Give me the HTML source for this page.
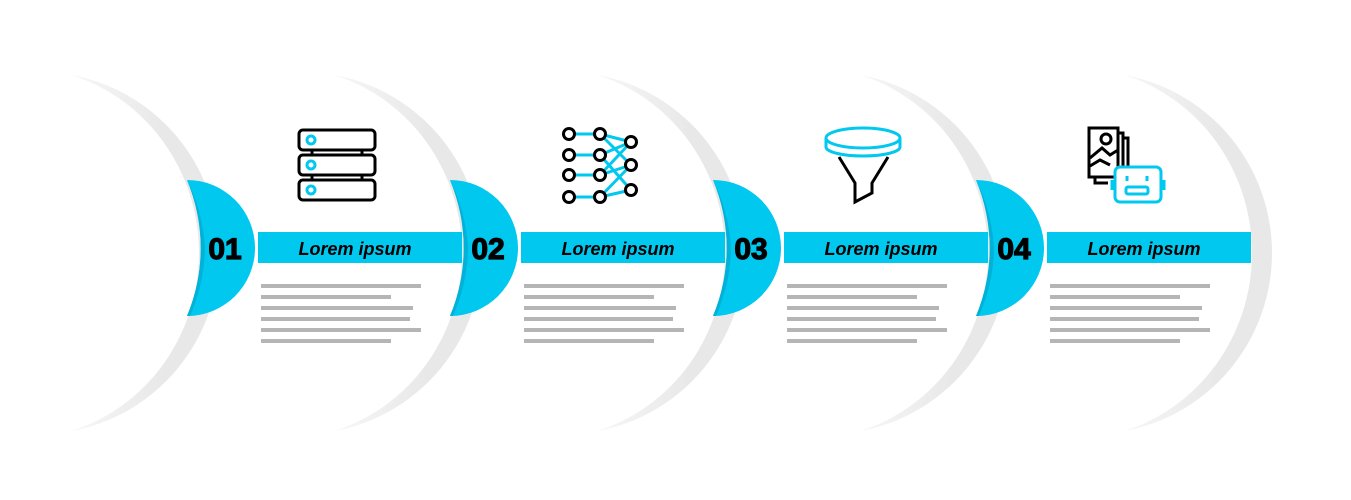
<!DOCTYPE html>
<html><head><meta charset="utf-8"><style>
html,body{margin:0;padding:0;background:#fff;}
svg{display:block;}
text{font-family:"Liberation Sans",sans-serif;}
.num{font-size:30px;font-weight:bold;stroke:#000;stroke-width:1.2px;}
</style></head><body>
<svg width="1351" height="500" viewBox="0 0 1351 500" xmlns="http://www.w3.org/2000/svg">
<defs>
<linearGradient id="gg" x1="0" x2="1" y1="0" y2="0">
<stop offset="0.45" stop-color="#e8e8e8" stop-opacity="0"/>
<stop offset="0.85" stop-color="#e8e8e8" stop-opacity="1"/>
</linearGradient>
<g id="seg">
<ellipse cx="-160" cy="253" rx="180" ry="181" fill="url(#gg)"/>
<ellipse cx="-180" cy="253" rx="180" ry="186" fill="#fff"/>
</g>
</defs>
<use href="#seg" x="1252"/>
<use href="#seg" x="988"/>
<use href="#seg" x="725"/>
<use href="#seg" x="462"/>
<use href="#seg" x="199"/>

<g id="bd">
<path d="M187,180 A68,68 0 0 1 187,316 A190,182 0 0 0 187,180 Z" fill="#00c8ef"/>
<path d="M187,180 A190,182 0 0 1 205,248 A190,182 0 0 1 190,316 L187,316 A190,182 0 0 0 187,180Z" fill="#00b2d8"/>
</g>
<use href="#bd" x="263"/>
<use href="#bd" x="526"/>
<use href="#bd" x="789"/>

<g id="b1">
<rect x="258" y="232" width="204" height="31" fill="#00c8ef"/>
<text x="225" y="259" class="num" text-anchor="middle" fill="#000">01</text>
<text x="355" y="255" font-size="18" font-weight="bold" font-style="italic" text-anchor="middle" fill="#000">Lorem ipsum</text>
<g fill="#b5b5b5">
<rect x="261" y="284" width="160" height="4"/>
<rect x="261" y="295" width="130" height="4"/>
<rect x="261" y="306" width="152" height="4"/>
<rect x="261" y="317" width="149" height="4"/>
<rect x="261" y="328" width="160" height="4"/>
<rect x="261" y="339" width="130" height="4"/>
</g>
</g>
<g transform="translate(263,0)">
<rect x="258" y="232" width="204" height="31" fill="#00c8ef"/>
<text x="225" y="259" class="num" text-anchor="middle" fill="#000">02</text>
<text x="355" y="255" font-size="18" font-weight="bold" font-style="italic" text-anchor="middle" fill="#000">Lorem ipsum</text>
<g fill="#b5b5b5">
<rect x="261" y="284" width="160" height="4"/><rect x="261" y="295" width="130" height="4"/><rect x="261" y="306" width="152" height="4"/><rect x="261" y="317" width="149" height="4"/><rect x="261" y="328" width="160" height="4"/><rect x="261" y="339" width="130" height="4"/>
</g>
</g>
<g transform="translate(526,0)">
<rect x="258" y="232" width="204" height="31" fill="#00c8ef"/>
<text x="225" y="259" class="num" text-anchor="middle" fill="#000">03</text>
<text x="355" y="255" font-size="18" font-weight="bold" font-style="italic" text-anchor="middle" fill="#000">Lorem ipsum</text>
<g fill="#b5b5b5">
<rect x="261" y="284" width="160" height="4"/><rect x="261" y="295" width="130" height="4"/><rect x="261" y="306" width="152" height="4"/><rect x="261" y="317" width="149" height="4"/><rect x="261" y="328" width="160" height="4"/><rect x="261" y="339" width="130" height="4"/>
</g>
</g>
<g transform="translate(789,0)">
<rect x="258" y="232" width="204" height="31" fill="#00c8ef"/>
<text x="225" y="259" class="num" text-anchor="middle" fill="#000">04</text>
<text x="355" y="255" font-size="18" font-weight="bold" font-style="italic" text-anchor="middle" fill="#000">Lorem ipsum</text>
<g fill="#b5b5b5">
<rect x="261" y="284" width="160" height="4"/><rect x="261" y="295" width="130" height="4"/><rect x="261" y="306" width="152" height="4"/><rect x="261" y="317" width="149" height="4"/><rect x="261" y="328" width="160" height="4"/><rect x="261" y="339" width="130" height="4"/>
</g>
</g>

<g fill="none" stroke="#000" stroke-width="3">
<rect x="299" y="130" width="76" height="20" rx="4"/>
<rect x="299" y="155" width="76" height="20" rx="4"/>
<rect x="299" y="180" width="76" height="20" rx="4"/>
<line x1="312" y1="151" x2="312" y2="154"/><line x1="362" y1="151" x2="362" y2="154"/>
<line x1="312" y1="176" x2="312" y2="179"/><line x1="362" y1="176" x2="362" y2="179"/>
</g>
<g fill="none" stroke="#00c8ef" stroke-width="3">
<circle cx="311" cy="140" r="4"/><circle cx="311" cy="165" r="4"/><circle cx="311" cy="190" r="4"/>
</g>

<g stroke="#00c8ef" stroke-width="3">
<line x1="569" y1="134" x2="600" y2="134"/><line x1="569" y1="155" x2="600" y2="155"/>
<line x1="569" y1="175" x2="600" y2="175"/><line x1="569" y1="197" x2="600" y2="197"/>
<line x1="600" y1="134" x2="631" y2="142"/><line x1="600" y1="134" x2="631" y2="165"/>
<line x1="600" y1="155" x2="631" y2="142"/><line x1="600" y1="155" x2="631" y2="190"/>
<line x1="600" y1="175" x2="631" y2="165"/><line x1="600" y1="175" x2="631" y2="142"/>
<line x1="600" y1="197" x2="631" y2="190"/><line x1="600" y1="197" x2="631" y2="165"/>
</g>
<g fill="#fff" stroke="#000" stroke-width="3">
<circle cx="569" cy="134" r="5.5"/><circle cx="569" cy="155" r="5.5"/><circle cx="569" cy="175" r="5.5"/><circle cx="569" cy="197" r="5.5"/>
<circle cx="600" cy="134" r="5.5"/><circle cx="600" cy="155" r="5.5"/><circle cx="600" cy="175" r="5.5"/><circle cx="600" cy="197" r="5.5"/>
<circle cx="631" cy="142" r="5.5"/><circle cx="631" cy="165" r="5.5"/><circle cx="631" cy="190" r="5.5"/>
</g>

<g fill="none" stroke-width="3">
<path d="M839,157 L855,183 L855,202 L872,193 L872,183 L888,157" stroke="#000"/>
<ellipse cx="863" cy="138" rx="37" ry="10" stroke="#00c8ef" fill="#fff"/>
<path d="M826,138 L826,147 A37,9 0 0 0 900,147 L900,138" stroke="#00c8ef"/>
</g>

<g fill="none" stroke="#000" stroke-width="3">
<path d="M1123,138 L1128,138 L1128,185"/>
<path d="M1118,133 L1123,133 L1123,183"/>
<rect x="1089" y="128" width="29" height="49"/>
<circle cx="1106" cy="139" r="5"/>
<path d="M1090,158 L1102,148 L1110,155 L1118,150"/>
<path d="M1090,166 L1100,160 L1110,165"/>
<path d="M1095,178 L1095,183 L1108,183"/>
</g>
<g fill="#fff" stroke="#00c8ef" stroke-width="3">
<rect x="1115" y="167" width="46" height="35" rx="5"/>
<line x1="1112" y1="180" x2="1112" y2="190"/><line x1="1164" y1="180" x2="1164" y2="190"/>
<line x1="1127" y1="176" x2="1127" y2="181"/><line x1="1147" y1="176" x2="1147" y2="181"/>
<rect x="1126" y="187" width="22" height="7" rx="2"/>
</g>
</svg>
</body></html>
